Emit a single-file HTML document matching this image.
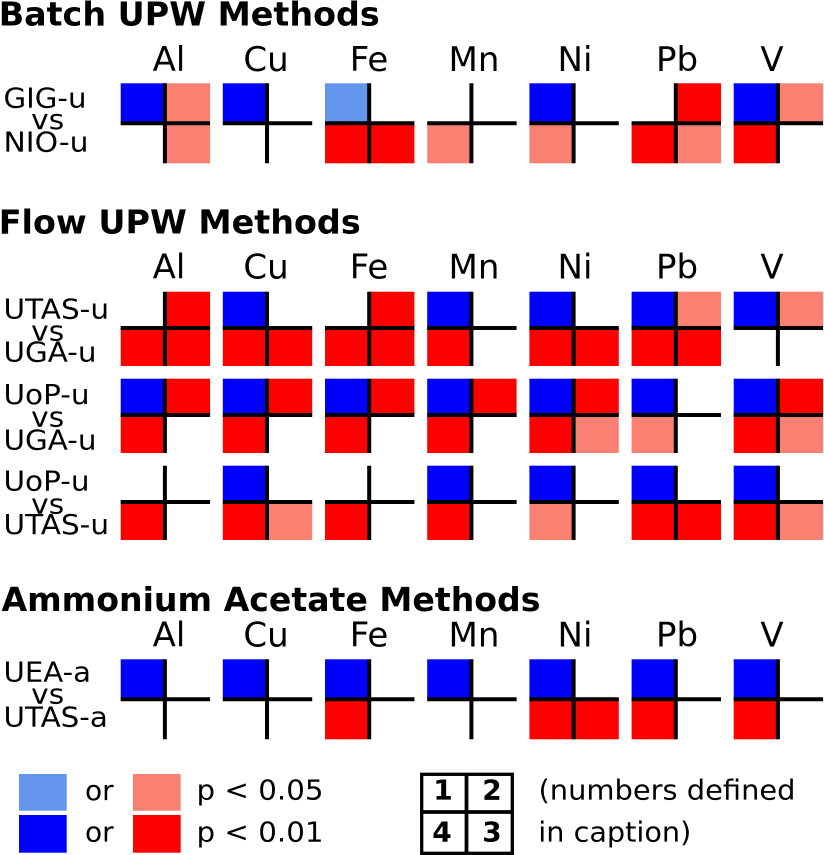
<!DOCTYPE html>
<html>
<head>
<meta charset="utf-8">
<style>
html,body{margin:0;padding:0;background:#fff;}
svg{display:block;}
text{font-family:"DejaVu Sans","Liberation Sans",sans-serif;fill:#000;}
.t{font-weight:bold;font-size:33px;}
.e{font-size:34px;text-anchor:middle;}
.r{font-size:28px;}
.l{font-size:28px;}
.n{font-size:28px;font-weight:bold;text-anchor:middle;}
</style>
</head>
<body>
<svg width="824" height="855" viewBox="0 0 824 855" xmlns="http://www.w3.org/2000/svg">
<rect width="824" height="855" fill="#fff"/>

<!-- Titles -->
<text class="t" x="-1.3" y="25.5" textLength="381" lengthAdjust="spacingAndGlyphs">Batch UPW Methods</text>
<text class="t" x="-1.3" y="233.3" textLength="362" lengthAdjust="spacingAndGlyphs">Flow UPW Methods</text>
<text class="t" x="1.5" y="611" textLength="539" lengthAdjust="spacingAndGlyphs">Ammonium Acetate Methods</text>

<!-- Element labels -->
<g>
<text class="e" x="169" y="71">Al</text><text class="e" x="266" y="71">Cu</text><text class="e" x="369" y="71">Fe</text><text class="e" x="474" y="71">Mn</text><text class="e" x="575" y="71">Ni</text><text class="e" x="677" y="71">Pb</text><text class="e" x="772" y="71">V</text>
<text class="e" x="169" y="278.3">Al</text><text class="e" x="266" y="278.3">Cu</text><text class="e" x="369" y="278.3">Fe</text><text class="e" x="474" y="278.3">Mn</text><text class="e" x="575" y="278.3">Ni</text><text class="e" x="677" y="278.3">Pb</text><text class="e" x="772" y="278.3">V</text>
<text class="e" x="169" y="646.7">Al</text><text class="e" x="266" y="646.7">Cu</text><text class="e" x="369" y="646.7">Fe</text><text class="e" x="474" y="646.7">Mn</text><text class="e" x="575" y="646.7">Ni</text><text class="e" x="677" y="646.7">Pb</text><text class="e" x="772" y="646.7">V</text>
</g>

<!-- Row labels -->
<text class="r" x="3.5" y="107.7" textLength="83" lengthAdjust="spacingAndGlyphs">GIG-u</text>
<text class="r" x="31.2" y="129" textLength="33" lengthAdjust="spacingAndGlyphs">vs</text>
<text class="r" x="3.5" y="151.7" textLength="85" lengthAdjust="spacingAndGlyphs">NIO-u</text>

<text class="r" x="3.5" y="318.3" textLength="105.5" lengthAdjust="spacingAndGlyphs">UTAS-u</text>
<text class="r" x="31.2" y="340.5" textLength="33" lengthAdjust="spacingAndGlyphs">vs</text>
<text class="r" x="3.5" y="361.7" textLength="93" lengthAdjust="spacingAndGlyphs">UGA-u</text>

<text class="r" x="3.5" y="404" textLength="86" lengthAdjust="spacingAndGlyphs">UoP-u</text>
<text class="r" x="31.2" y="426.7" textLength="33" lengthAdjust="spacingAndGlyphs">vs</text>
<text class="r" x="3.5" y="449.3" textLength="93" lengthAdjust="spacingAndGlyphs">UGA-u</text>

<text class="r" x="3.5" y="490.7" textLength="86" lengthAdjust="spacingAndGlyphs">UoP-u</text>
<text class="r" x="31.2" y="513.3" textLength="33" lengthAdjust="spacingAndGlyphs">vs</text>
<text class="r" x="3.5" y="534" textLength="105.5" lengthAdjust="spacingAndGlyphs">UTAS-u</text>

<text class="r" x="3.5" y="681.7" textLength="87.5" lengthAdjust="spacingAndGlyphs">UEA-a</text>
<text class="r" x="31.2" y="703.3" textLength="33" lengthAdjust="spacingAndGlyphs">vs</text>
<text class="r" x="3.5" y="726.7" textLength="104.3" lengthAdjust="spacingAndGlyphs">UTAS-a</text>

<!-- ===== Batch row (T=83.3, h=80, mid=40) ===== -->
<g transform="translate(120.7,83.3)">
<rect x="0" y="0" width="44.2" height="40" fill="#0000ff"/>
<rect x="44.2" y="0" width="45.2" height="40" fill="#fa8072"/>
<rect x="44.2" y="40" width="45.2" height="40" fill="#fa8072"/>
<path d="M0 40H89.4M44.2 0V80" stroke="#000" stroke-width="4" fill="none"/>
</g>
<g transform="translate(222.8,83.3)">
<rect x="0" y="0" width="44.2" height="40" fill="#0000ff"/>
<path d="M0 40H89.4M44.2 0V80" stroke="#000" stroke-width="4" fill="none"/>
</g>
<g transform="translate(325,83.3)">
<rect x="0" y="0" width="44.2" height="40" fill="#6495ed"/>
<rect x="0" y="40" width="44.2" height="40" fill="#ff0000"/>
<rect x="44.2" y="40" width="45.2" height="40" fill="#ff0000"/>
<path d="M0 40H89.4M44.2 0V80" stroke="#000" stroke-width="4" fill="none"/>
</g>
<g transform="translate(427.2,83.3)">
<rect x="0" y="40" width="44.2" height="40" fill="#fa8072"/>
<path d="M0 40H89.4M44.2 0V80" stroke="#000" stroke-width="4" fill="none"/>
</g>
<g transform="translate(529.4,83.3)">
<rect x="0" y="0" width="44.2" height="40" fill="#0000ff"/>
<rect x="0" y="40" width="44.2" height="40" fill="#fa8072"/>
<path d="M0 40H89.4M44.2 0V80" stroke="#000" stroke-width="4" fill="none"/>
</g>
<g transform="translate(631.6,83.3)">
<rect x="44.2" y="0" width="45.2" height="40" fill="#ff0000"/>
<rect x="0" y="40" width="44.2" height="40" fill="#ff0000"/>
<rect x="44.2" y="40" width="45.2" height="40" fill="#fa8072"/>
<path d="M0 40H89.4M44.2 0V80" stroke="#000" stroke-width="4" fill="none"/>
</g>
<g transform="translate(733.7,83.3)">
<rect x="0" y="0" width="44.2" height="40" fill="#0000ff"/>
<rect x="44.2" y="0" width="45.2" height="40" fill="#fa8072"/>
<rect x="0" y="40" width="44.2" height="40" fill="#ff0000"/>
<path d="M0 40H89.4M44.2 0V80" stroke="#000" stroke-width="4" fill="none"/>
</g>

<!-- ===== Flow row 1 (T=291.7, h=74.3, mid=36.3) ===== -->
<g transform="translate(120.7,291.7)">
<rect x="44.2" y="0" width="45.2" height="36.3" fill="#ff0000"/>
<rect x="0" y="36.3" width="44.2" height="38" fill="#ff0000"/>
<rect x="44.2" y="36.3" width="45.2" height="38" fill="#ff0000"/>
<path d="M0 36.3H89.4M44.2 0V74.3" stroke="#000" stroke-width="4" fill="none"/>
</g>
<g transform="translate(222.8,291.7)">
<rect x="0" y="0" width="44.2" height="36.3" fill="#0000ff"/>
<rect x="0" y="36.3" width="44.2" height="38" fill="#ff0000"/>
<rect x="44.2" y="36.3" width="45.2" height="38" fill="#ff0000"/>
<path d="M0 36.3H89.4M44.2 0V74.3" stroke="#000" stroke-width="4" fill="none"/>
</g>
<g transform="translate(325,291.7)">
<rect x="44.2" y="0" width="45.2" height="36.3" fill="#ff0000"/>
<rect x="0" y="36.3" width="44.2" height="38" fill="#ff0000"/>
<rect x="44.2" y="36.3" width="45.2" height="38" fill="#ff0000"/>
<path d="M0 36.3H89.4M44.2 0V74.3" stroke="#000" stroke-width="4" fill="none"/>
</g>
<g transform="translate(427.2,291.7)">
<rect x="0" y="0" width="44.2" height="36.3" fill="#0000ff"/>
<rect x="0" y="36.3" width="44.2" height="38" fill="#ff0000"/>
<path d="M0 36.3H89.4M44.2 0V74.3" stroke="#000" stroke-width="4" fill="none"/>
</g>
<g transform="translate(529.4,291.7)">
<rect x="0" y="0" width="44.2" height="36.3" fill="#0000ff"/>
<rect x="0" y="36.3" width="44.2" height="38" fill="#ff0000"/>
<rect x="44.2" y="36.3" width="45.2" height="38" fill="#ff0000"/>
<path d="M0 36.3H89.4M44.2 0V74.3" stroke="#000" stroke-width="4" fill="none"/>
</g>
<g transform="translate(631.6,291.7)">
<rect x="0" y="0" width="44.2" height="36.3" fill="#0000ff"/>
<rect x="44.2" y="0" width="45.2" height="36.3" fill="#fa8072"/>
<rect x="0" y="36.3" width="44.2" height="38" fill="#ff0000"/>
<rect x="44.2" y="36.3" width="45.2" height="38" fill="#ff0000"/>
<path d="M0 36.3H89.4M44.2 0V74.3" stroke="#000" stroke-width="4" fill="none"/>
</g>
<g transform="translate(733.7,291.7)">
<rect x="0" y="0" width="44.2" height="36.3" fill="#0000ff"/>
<rect x="44.2" y="0" width="45.2" height="36.3" fill="#fa8072"/>
<path d="M0 36.3H89.4M44.2 0V74.3" stroke="#000" stroke-width="4" fill="none"/>
</g>

<!-- ===== Flow row 2 (T=378.7) ===== -->
<g transform="translate(120.7,378.7)">
<rect x="0" y="0" width="44.2" height="36.3" fill="#0000ff"/>
<rect x="44.2" y="0" width="45.2" height="36.3" fill="#ff0000"/>
<rect x="0" y="36.3" width="44.2" height="38" fill="#ff0000"/>
<path d="M0 36.3H89.4M44.2 0V74.3" stroke="#000" stroke-width="4" fill="none"/>
</g>
<g transform="translate(222.8,378.7)">
<rect x="0" y="0" width="44.2" height="36.3" fill="#0000ff"/>
<rect x="44.2" y="0" width="45.2" height="36.3" fill="#ff0000"/>
<rect x="0" y="36.3" width="44.2" height="38" fill="#ff0000"/>
<path d="M0 36.3H89.4M44.2 0V74.3" stroke="#000" stroke-width="4" fill="none"/>
</g>
<g transform="translate(325,378.7)">
<rect x="0" y="0" width="44.2" height="36.3" fill="#0000ff"/>
<rect x="44.2" y="0" width="45.2" height="36.3" fill="#ff0000"/>
<rect x="0" y="36.3" width="44.2" height="38" fill="#ff0000"/>
<path d="M0 36.3H89.4M44.2 0V74.3" stroke="#000" stroke-width="4" fill="none"/>
</g>
<g transform="translate(427.2,378.7)">
<rect x="0" y="0" width="44.2" height="36.3" fill="#0000ff"/>
<rect x="44.2" y="0" width="45.2" height="36.3" fill="#ff0000"/>
<rect x="0" y="36.3" width="44.2" height="38" fill="#ff0000"/>
<path d="M0 36.3H89.4M44.2 0V74.3" stroke="#000" stroke-width="4" fill="none"/>
</g>
<g transform="translate(529.4,378.7)">
<rect x="0" y="0" width="44.2" height="36.3" fill="#0000ff"/>
<rect x="44.2" y="0" width="45.2" height="36.3" fill="#ff0000"/>
<rect x="0" y="36.3" width="44.2" height="38" fill="#ff0000"/>
<rect x="44.2" y="36.3" width="45.2" height="38" fill="#fa8072"/>
<path d="M0 36.3H89.4M44.2 0V74.3" stroke="#000" stroke-width="4" fill="none"/>
</g>
<g transform="translate(631.6,378.7)">
<rect x="0" y="0" width="44.2" height="36.3" fill="#0000ff"/>
<rect x="0" y="36.3" width="44.2" height="38" fill="#fa8072"/>
<path d="M0 36.3H89.4M44.2 0V74.3" stroke="#000" stroke-width="4" fill="none"/>
</g>
<g transform="translate(733.7,378.7)">
<rect x="0" y="0" width="44.2" height="36.3" fill="#0000ff"/>
<rect x="44.2" y="0" width="45.2" height="36.3" fill="#ff0000"/>
<rect x="0" y="36.3" width="44.2" height="38" fill="#ff0000"/>
<rect x="44.2" y="36.3" width="45.2" height="38" fill="#fa8072"/>
<path d="M0 36.3H89.4M44.2 0V74.3" stroke="#000" stroke-width="4" fill="none"/>
</g>

<!-- ===== Flow row 3 (T=465.7) ===== -->
<g transform="translate(120.7,465.7)">
<rect x="0" y="36.3" width="44.2" height="38" fill="#ff0000"/>
<path d="M0 36.3H89.4M44.2 0V74.3" stroke="#000" stroke-width="4" fill="none"/>
</g>
<g transform="translate(222.8,465.7)">
<rect x="0" y="0" width="44.2" height="36.3" fill="#0000ff"/>
<rect x="0" y="36.3" width="44.2" height="38" fill="#ff0000"/>
<rect x="44.2" y="36.3" width="45.2" height="38" fill="#fa8072"/>
<path d="M0 36.3H89.4M44.2 0V74.3" stroke="#000" stroke-width="4" fill="none"/>
</g>
<g transform="translate(325,465.7)">
<rect x="0" y="36.3" width="44.2" height="38" fill="#ff0000"/>
<path d="M0 36.3H89.4M44.2 0V74.3" stroke="#000" stroke-width="4" fill="none"/>
</g>
<g transform="translate(427.2,465.7)">
<rect x="0" y="0" width="44.2" height="36.3" fill="#0000ff"/>
<rect x="0" y="36.3" width="44.2" height="38" fill="#ff0000"/>
<path d="M0 36.3H89.4M44.2 0V74.3" stroke="#000" stroke-width="4" fill="none"/>
</g>
<g transform="translate(529.4,465.7)">
<rect x="0" y="0" width="44.2" height="36.3" fill="#0000ff"/>
<rect x="0" y="36.3" width="44.2" height="38" fill="#fa8072"/>
<path d="M0 36.3H89.4M44.2 0V74.3" stroke="#000" stroke-width="4" fill="none"/>
</g>
<g transform="translate(631.6,465.7)">
<rect x="0" y="0" width="44.2" height="36.3" fill="#0000ff"/>
<rect x="0" y="36.3" width="44.2" height="38" fill="#ff0000"/>
<rect x="44.2" y="36.3" width="45.2" height="38" fill="#ff0000"/>
<path d="M0 36.3H89.4M44.2 0V74.3" stroke="#000" stroke-width="4" fill="none"/>
</g>
<g transform="translate(733.7,465.7)">
<rect x="0" y="0" width="44.2" height="36.3" fill="#0000ff"/>
<rect x="0" y="36.3" width="44.2" height="38" fill="#ff0000"/>
<rect x="44.2" y="36.3" width="45.2" height="38" fill="#fa8072"/>
<path d="M0 36.3H89.4M44.2 0V74.3" stroke="#000" stroke-width="4" fill="none"/>
</g>

<!-- ===== Ammonium row (T=659.3, h=80, mid=40) ===== -->
<g transform="translate(120.7,659.3)">
<rect x="0" y="0" width="44.2" height="40" fill="#0000ff"/>
<path d="M0 40H89.4M44.2 0V80" stroke="#000" stroke-width="4" fill="none"/>
</g>
<g transform="translate(222.8,659.3)">
<rect x="0" y="0" width="44.2" height="40" fill="#0000ff"/>
<path d="M0 40H89.4M44.2 0V80" stroke="#000" stroke-width="4" fill="none"/>
</g>
<g transform="translate(325,659.3)">
<rect x="0" y="0" width="44.2" height="40" fill="#0000ff"/>
<rect x="0" y="40" width="44.2" height="40" fill="#ff0000"/>
<path d="M0 40H89.4M44.2 0V80" stroke="#000" stroke-width="4" fill="none"/>
</g>
<g transform="translate(427.2,659.3)">
<rect x="0" y="0" width="44.2" height="40" fill="#0000ff"/>
<path d="M0 40H89.4M44.2 0V80" stroke="#000" stroke-width="4" fill="none"/>
</g>
<g transform="translate(529.4,659.3)">
<rect x="0" y="0" width="44.2" height="40" fill="#0000ff"/>
<rect x="0" y="40" width="44.2" height="40" fill="#ff0000"/>
<rect x="44.2" y="40" width="45.2" height="40" fill="#ff0000"/>
<path d="M0 40H89.4M44.2 0V80" stroke="#000" stroke-width="4" fill="none"/>
</g>
<g transform="translate(631.6,659.3)">
<rect x="0" y="0" width="44.2" height="40" fill="#0000ff"/>
<rect x="0" y="40" width="44.2" height="40" fill="#ff0000"/>
<path d="M0 40H89.4M44.2 0V80" stroke="#000" stroke-width="4" fill="none"/>
</g>
<g transform="translate(733.7,659.3)">
<rect x="0" y="0" width="44.2" height="40" fill="#0000ff"/>
<rect x="0" y="40" width="44.2" height="40" fill="#ff0000"/>
<path d="M0 40H89.4M44.2 0V80" stroke="#000" stroke-width="4" fill="none"/>
</g>

<!-- ===== Legend ===== -->
<rect x="19" y="774" width="47.7" height="36.7" fill="#6495ed"/>
<rect x="19" y="815" width="47.7" height="37.7" fill="#0000ff"/>
<rect x="133" y="774" width="47.7" height="36.7" fill="#fa8072"/>
<rect x="133" y="815" width="47.7" height="37.7" fill="#ff0000"/>
<text class="l" x="85" y="800">or</text>
<text class="l" x="85" y="841.7">or</text>
<text class="l" x="196.5" y="799.5" textLength="127" lengthAdjust="spacingAndGlyphs">p &lt; 0.05</text>
<text class="l" x="196.5" y="841.5" textLength="127" lengthAdjust="spacingAndGlyphs">p &lt; 0.01</text>

<rect x="421.7" y="774.3" width="90.6" height="79" fill="none" stroke="#000" stroke-width="3.3"/>
<path d="M466.5 774.3V853.3M421.7 812H512.3" stroke="#000" stroke-width="3.8" fill="none"/>
<text class="n" x="443" y="799.5">1</text>
<text class="n" x="492" y="799.5">2</text>
<text class="n" x="442" y="841.7">4</text>
<text class="n" x="492" y="841.7">3</text>

<text class="l" x="538.5" y="799.5" textLength="257" lengthAdjust="spacingAndGlyphs">(numbers defined</text>
<text class="l" x="538.3" y="841.7" textLength="153" lengthAdjust="spacingAndGlyphs">in caption)</text>
</svg>
</body>
</html>
